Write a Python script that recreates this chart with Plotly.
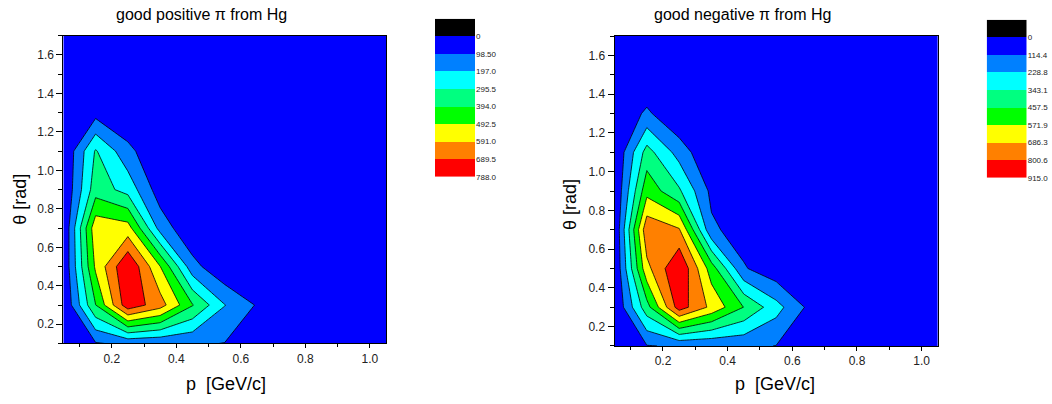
import plotly.graph_objects as go

# ---------------- data ----------------
p_vals = [0.05, 0.15, 0.25, 0.35, 0.45, 0.55, 0.65, 0.75, 0.85, 0.95, 1.05]
theta_vals = [0.1, 0.3, 0.5, 0.7, 0.9, 1.1, 1.3, 1.5, 1.7]

# rows: theta, columns: p
pos_counts = [
    [0, 90, 120, 110, 110, 96, 30, 10, 5, 0, 0],
    [0, 392, 755, 635, 400, 200, 90, 30, 10, 5, 0],
    [10, 510, 788, 495, 135, 10, 5, 0, 0, 0, 0],
    [0, 560, 535, 159, 10, 0, 0, 0, 0, 0, 0],
    [0, 350, 259, 45, 0, 0, 0, 0, 0, 0, 0],
    [0, 305, 130, 0, 0, 0, 0, 0, 0, 0, 0],
    [0, 62, 0, 0, 0, 0, 0, 0, 0, 0, 0],
    [0, 10, 0, 0, 0, 0, 0, 0, 0, 0, 0],
    [0, 0, 0, 0, 0, 0, 0, 0, 0, 0, 0],
]
neg_counts = [
    [0, 109, 126, 126, 137, 112, 34, 11, 0, 0, 0],
    [0, 412, 858, 657, 455, 272, 92, 34, 11, 0, 0],
    [0, 652, 915, 515, 126, 34, 11, 0, 0, 0, 0],
    [0, 770, 698, 137, 57, 0, 0, 0, 0, 0, 0],
    [0, 534, 360, 86, 0, 0, 0, 0, 0, 0, 0],
    [0, 389, 183, 0, 0, 0, 0, 0, 0, 0, 0],
    [0, 137, 0, 0, 0, 0, 0, 0, 0, 0, 0],
    [0, 0, 0, 0, 0, 0, 0, 0, 0, 0, 0],
    [0, 0, 0, 0, 0, 0, 0, 0, 0, 0, 0],
]
pos_max = 788.0
neg_max = 915.0
n_bands = 8
pos_labels = ["0", "98.50", "197.0", "295.5", "394.0", "492.5", "591.0", "689.5", "788.0"]
neg_labels = ["0", "114.4", "228.8", "343.1", "457.5", "571.9", "686.3", "800.6", "915.0"]
legend_colors = ["#000000", "#0000FF", "#0080FF", "#00FFFF", "#00FF80",
                 "#00FF00", "#FFFF00", "#FF8000", "#FF0000"]
titles = ["good positive \u03c0 from Hg", "good negative \u03c0 from Hg"]

FONT = "Liberation Sans, Arial, sans-serif"
W, H = 1052, 404


def step_scale(colors):
    n = len(colors)
    scale = []
    for i, c in enumerate(colors):
        lo = max(0.0, (i - 0.5) / (n - 1))
        hi = min(1.0, (i + 0.5) / (n - 1))
        scale.append([lo, c])
        scale.append([hi, c])
    return scale


# contour fills: bg (below first level) blue ... above last level red
fill_colors = legend_colors[1:] + [legend_colors[-1]]
contour_scale = step_scale(fill_colors)

legend_scale = []
nl = len(legend_colors)
for i, c in enumerate(legend_colors):
    legend_scale.append([i / nl, c])
    legend_scale.append([(i + 1) / nl, c])

fig = go.Figure()

for idx, (z, zmax) in enumerate([(pos_counts, pos_max), (neg_counts, neg_max)]):
    step = zmax / n_bands
    ax = "" if idx == 0 else "2"
    fig.add_trace(go.Contour(
        x=p_vals, y=theta_vals, z=z,
        contours=dict(start=step, end=zmax, size=step, coloring="fill"),
        colorscale=contour_scale, showscale=False,
        line=dict(color="black", width=0.8, smoothing=0),
        xaxis="x" + ax, yaxis="y" + ax, hoverinfo="skip",
    ))

for idx, labels in enumerate([pos_labels, neg_labels]):
    ax = str(idx + 3)
    fig.add_trace(go.Heatmap(
        x=[0], y=list(range(len(legend_colors))),
        z=[[i] for i in range(len(legend_colors))],
        colorscale=legend_scale, zmin=-0.5, zmax=len(legend_colors) - 0.5,
        showscale=False, xaxis="x" + ax, yaxis="y" + ax, hoverinfo="skip",
    ))

# domains (pixel based)
def px_x(a, b):
    return [a / W, b / W]

def px_y(top, bottom):
    return [(H - bottom) / H, (H - top) / H]

plot_dom = [(px_x(63.3, 386.1), px_y(36.2, 347.8)),
            (px_x(614.5, 937.8), px_y(36.5, 350.3))]
leg_dom = [(px_x(435, 475), px_y(19, 179)),
           (px_x(986.7, 1026.7), px_y(20, 180))]

layout = dict(
    width=W, height=H, margin=dict(l=0, r=0, t=0, b=0),
    paper_bgcolor="white", plot_bgcolor="white",
    font=dict(family=FONT, color="#222"), showlegend=False,
)

for i in range(2):
    sx = "" if i == 0 else "2"
    xd, yd = plot_dom[i]
    layout["xaxis" + sx] = dict(
        domain=xd, range=[0.05, 1.05], anchor="y" + sx,
        tick0=0.2, dtick=0.2, tickformat=".1f",
        ticks="outside", ticklen=4, tickwidth=1, tickcolor="black",
        minor=dict(tick0=0.1, dtick=0.1, ticks="outside", ticklen=3, tickcolor="black"),
        showline=True, linecolor="black", linewidth=1, mirror=True,
        showgrid=False, zeroline=False, tickfont=dict(size=12, color="#222"),
    )
    layout["yaxis" + sx] = dict(
        domain=yd, range=[0.1, 1.7], anchor="x" + sx,
        tick0=0.2, dtick=0.2, tickformat=".1f",
        ticks="outside", ticklen=6, tickwidth=1, tickcolor="black",
        minor=dict(tick0=0.1, dtick=0.1, ticks="outside", ticklen=4, tickcolor="black"),
        showline=True, linecolor="black", linewidth=1, mirror=True,
        showgrid=False, zeroline=False, tickfont=dict(size=12, color="#222"),
    )

for i, labels in enumerate([pos_labels, neg_labels]):
    sx = str(i + 3)
    xd, yd = leg_dom[i]
    layout["xaxis" + sx] = dict(domain=xd, anchor="y" + sx, visible=False,
                                range=[-0.5, 0.5], fixedrange=True)
    layout["yaxis" + sx] = dict(
        domain=yd, anchor="x" + sx, side="right",
        range=[len(legend_colors) - 0.5, -0.5],
        tickvals=[k + 0.5 for k in range(len(labels))], ticktext=labels,
        ticks="", showline=False, showgrid=False, zeroline=False,
        tickfont=dict(size=8, color="#222"), fixedrange=True,
    )

ann = []
title_x = [201, 742]
xt_x = [226, 775]
yt = [(20.5, 201.7), (570, 207.5)]
for i in range(2):
    ann.append(dict(text=titles[i], x=title_x[i] / W, y=(H - 15) / H,
                    xref="paper", yref="paper", showarrow=False,
                    xanchor="center", yanchor="middle",
                    font=dict(size=16, color="black", family=FONT)))
    ann.append(dict(text="p  [GeV/c]", x=xt_x[i] / W, y=(H - 389) / H,
                    xref="paper", yref="paper", showarrow=False,
                    xanchor="center", yanchor="middle",
                    font=dict(size=18, color="black", family=FONT)))
    ann.append(dict(text="\u03b8 [rad]", x=yt[i][0] / W, y=(H - yt[i][1]) / H,
                    xref="paper", yref="paper", showarrow=False, textangle=-90,
                    xanchor="center", yanchor="middle",
                    font=dict(size=18, color="black", family=FONT)))
layout["annotations"] = ann

fig.update_layout(**layout)
fig.write_html("out.html",
               config={"displayModeBar": False},
               post_script="document.body.style.margin='0px';document.body.style.padding='0px';")
